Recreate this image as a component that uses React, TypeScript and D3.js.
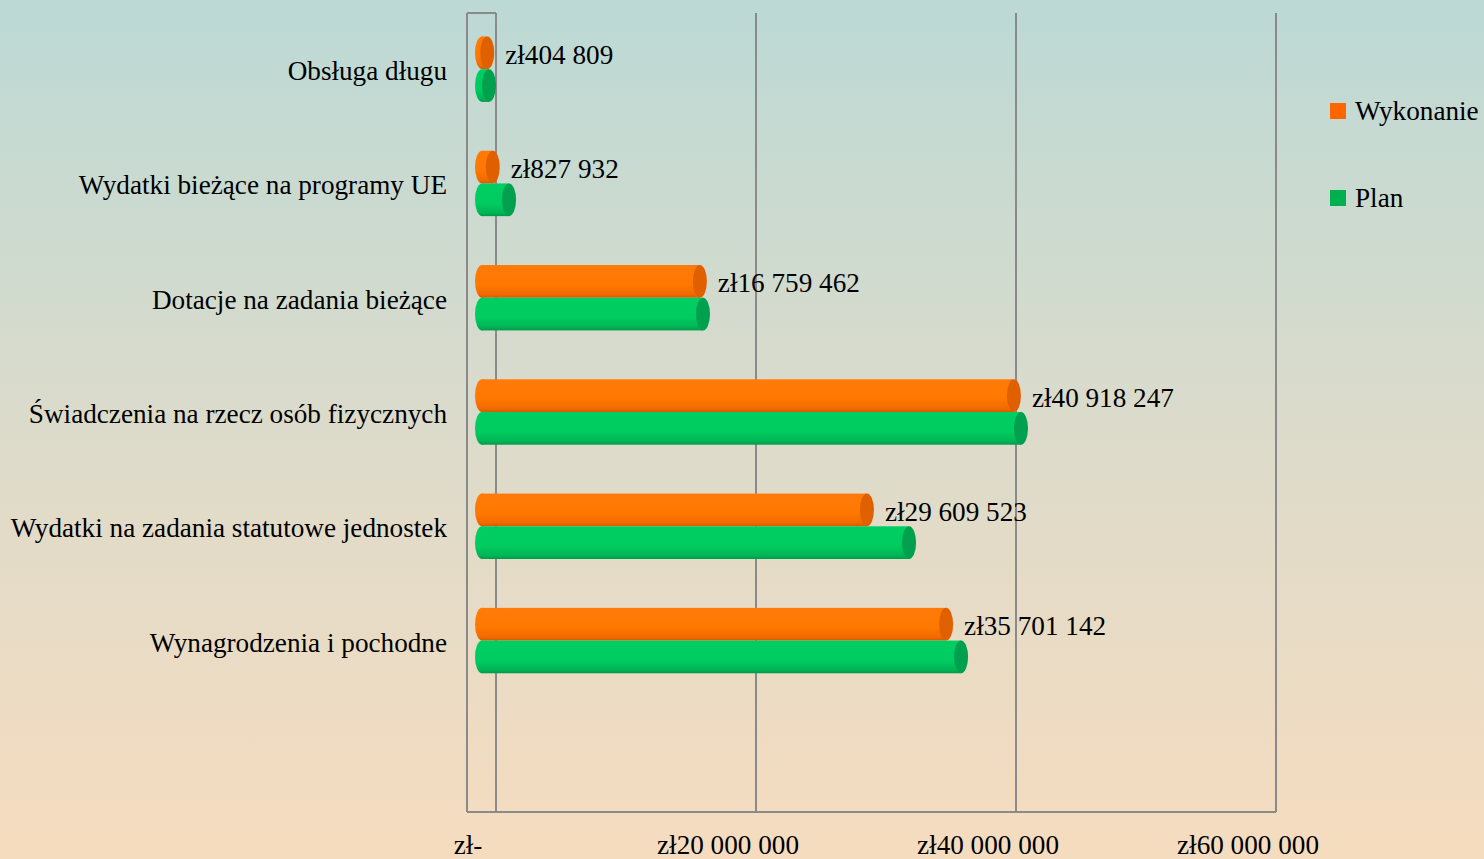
import React from "react";
import * as d3 from "d3";

const categories = [
  "Obsługa długu",
  "Wydatki bieżące na programy UE",
  "Dotacje na zadania bieżące",
  "Świadczenia na rzecz osób fizycznych",
  "Wydatki na zadania statutowe jednostek",
  "Wynagrodzenia i pochodne",
];
const wykonanie = [404809, 827932, 16759462, 40918247, 29609523, 35701142];
const plan = [540000, 2080000, 17000000, 41460000, 32850000, 36850000];
const tickValues = [0, 20000000, 40000000, 60000000];
const tickLabels = ["zł-", "zł20 000 000", "zł40 000 000", "zł60 000 000"];
const seriesNames = ["Wykonanie", "Plan"];

const W = 1484;
const H = 859;
const FONT = "'Liberation Serif', 'Times New Roman', serif";
const FS = 27.2;

const fmt = (v: number) => "zł" + d3.format(",")(v).replace(/,/g, " ");

export default function App() {
  const top = 13;
  const floorY = 812;
  const xBack = d3.scaleLinear().domain([0, 60000000]).range([496, 1276]);
  const xFront = d3.scaleLinear().domain([0, 60000000]).range([468, 1248]);
  const xBar = d3.scaleLinear().domain([0, 60000000]).range([482, 1262]);
  const y = d3
    .scaleBand<string>()
    .domain([...categories, "__empty"])
    .range([top - 1, floorY])
    .padding(0);
  const bw = 32.7;
  const rx = 7;
  const ry = bw / 2;

  const series = [
    { name: seriesNames[0], values: wykonanie, grad: "gOr", cap: "#E06000", legend: "#FF6600" },
    { name: seriesNames[1], values: plan, grad: "gGr", cap: "#00A04E", legend: "#00B050" },
  ];

  return (
    <svg width={W} height={H} style={{ position: "absolute", left: 0, top: 0, display: "block" }}>
      <defs>
        <linearGradient id="bg" x1="0" y1="0" x2="0" y2="1">
          <stop offset="0" stopColor="#BCD9D5" />
          <stop offset="0.5" stopColor="#DCDBCB" />
          <stop offset="1" stopColor="#F6DCBF" />
        </linearGradient>
        <linearGradient id="gOr" x1="0" y1="0" x2="0" y2="1">
          <stop offset="0" stopColor="#FF7A0A" />
          <stop offset="0.6" stopColor="#FF7800" />
          <stop offset="0.9" stopColor="#F06A00" />
          <stop offset="1" stopColor="#D65A00" />
        </linearGradient>
        <linearGradient id="gGr" x1="0" y1="0" x2="0" y2="1">
          <stop offset="0" stopColor="#00CE62" />
          <stop offset="0.6" stopColor="#00CC60" />
          <stop offset="0.9" stopColor="#00B455" />
          <stop offset="1" stopColor="#009A48" />
        </linearGradient>
      </defs>
      <rect x={0} y={0} width={W} height={H} fill="url(#bg)" />

      {/* walls / gridlines */}
      <g stroke="#8A8A8A" strokeWidth={2} fill="none">
        <line x1={467} y1={top} x2={467} y2={floorY} />
        <line x1={467} y1={top} x2={xBack(0)} y2={top} />
        <line x1={467} y1={floorY} x2={xBack(60000000)} y2={floorY} />
        {tickValues.map((t) => (
          <line key={t} x1={xBack(t)} y1={top} x2={xBack(t)} y2={floorY} />
        ))}
      </g>

      {/* bars */}
      {categories.map((c, i) => {
        const cy = (y(c) as number) + y.bandwidth() / 2;
        return (
          <g key={c}>
            {series.map((s, si) => {
              const yTop = si === 0 ? cy - bw : cy;
              const x0 = xBar(0);
              const x1 = xBar(s.values[i]);
              return (
                <g key={s.name}>
                  <ellipse cx={x0} cy={yTop + ry} rx={rx} ry={ry} fill={`url(#${s.grad})`} />
                  <rect x={x0} y={yTop} width={x1 - x0} height={bw} fill={`url(#${s.grad})`} />
                  <ellipse cx={x1} cy={yTop + ry} rx={rx} ry={ry} fill={s.cap} />
                </g>
              );
            })}
            <text
              x={xBar(wykonanie[i]) + rx + 11}
              y={cy - ry + 2}
              dominantBaseline="central"
              fontFamily={FONT}
              fontSize={FS}
              fill="#000"
            >
              {fmt(wykonanie[i])}
            </text>
            <text
              x={447}
              y={cy + 2}
              textAnchor="end"
              dominantBaseline="central"
              fontFamily={FONT}
              fontSize={FS}
              fill="#000"
            >
              {c}
            </text>
          </g>
        );
      })}

      {/* x tick labels */}
      {tickValues.map((t, i) => (
        <text
          key={t}
          x={xFront(t)}
          y={845}
          textAnchor="middle"
          dominantBaseline="central"
          fontFamily={FONT}
          fontSize={FS}
          fill="#000"
        >
          {tickLabels[i]}
        </text>
      ))}

      {/* legend */}
      {series.map((s, i) => {
        const ly = 111 + i * 87;
        return (
          <g key={s.name}>
            <rect x={1330} y={ly - 8} width={16} height={16} fill={s.legend} />
            <text x={1355} y={ly} dominantBaseline="central" fontFamily={FONT} fontSize={FS} fill="#000">
              {s.name}
            </text>
          </g>
        );
      })}
    </svg>
  );
}
